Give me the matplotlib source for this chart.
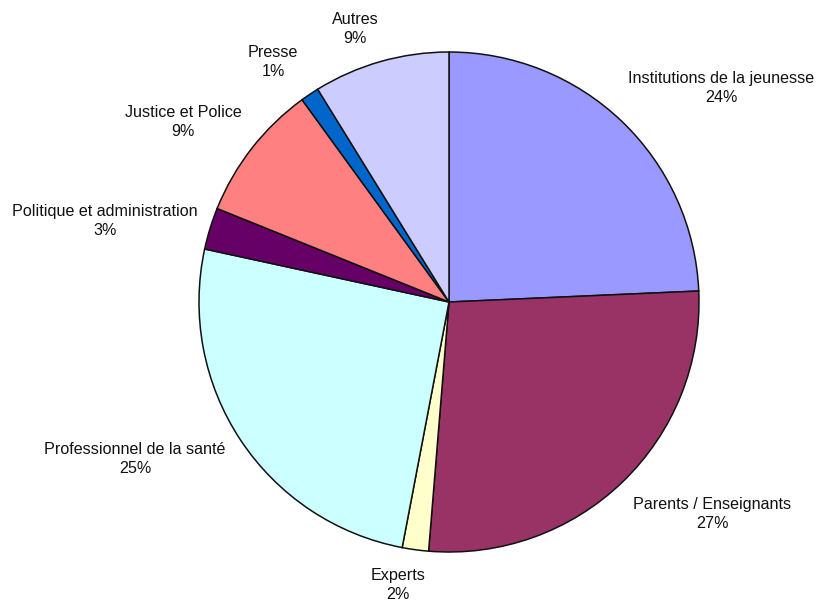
import matplotlib
matplotlib.use("Agg")
import matplotlib.pyplot as plt

categories = ["Institutions de la jeunesse", "Parents / Enseignants", "Experts",
              "Professionnel de la santé", "Politique et administration",
              "Justice et Police", "Presse", "Autres"]
values = [24.3, 27.0, 1.7, 25.4, 2.7, 8.9, 1.2, 8.8]
colors = ["#9999FF", "#993366", "#FFFFCC", "#CCFFFF", "#660066",
          "#FF8080", "#0066CC", "#CCCCFF"]
# label centres (pixels in figure, top-left origin)
label_px = [(721, 88), (712, 514), (398, 585), (135, 459),
            (105, 221), (183, 122), (273, 62), (355, 29)]

plt.rcParams['font.family'] = ['Liberation Sans', 'DejaVu Sans']

W, H = 819, 603
cx, cy, R = 449, 302, 250
fig = plt.figure(figsize=(W / 100, H / 100), dpi=100)
ax = fig.add_axes([0, 0, 1, 1])
ax.pie(values, colors=colors, startangle=90, counterclock=False,
       wedgeprops=dict(edgecolor="#111111", linewidth=1.1))
ax.set_xlim(-cx / R, (W - cx) / R)
ax.set_ylim(-(H - cy) / R, cy / R)
ax.set_aspect('auto')
ax.axis('off')

for cat, v, (px, py) in zip(categories, values, label_px):
    x = (px - cx) / R
    y = (cy - py) / R
    ax.text(x, y, f"{cat}\n{v:.0f}%", ha='center', va='center', fontsize=11.6,
            color='#111111', linespacing=1.3)

fig.savefig("out.png", dpi=100, facecolor='white')
